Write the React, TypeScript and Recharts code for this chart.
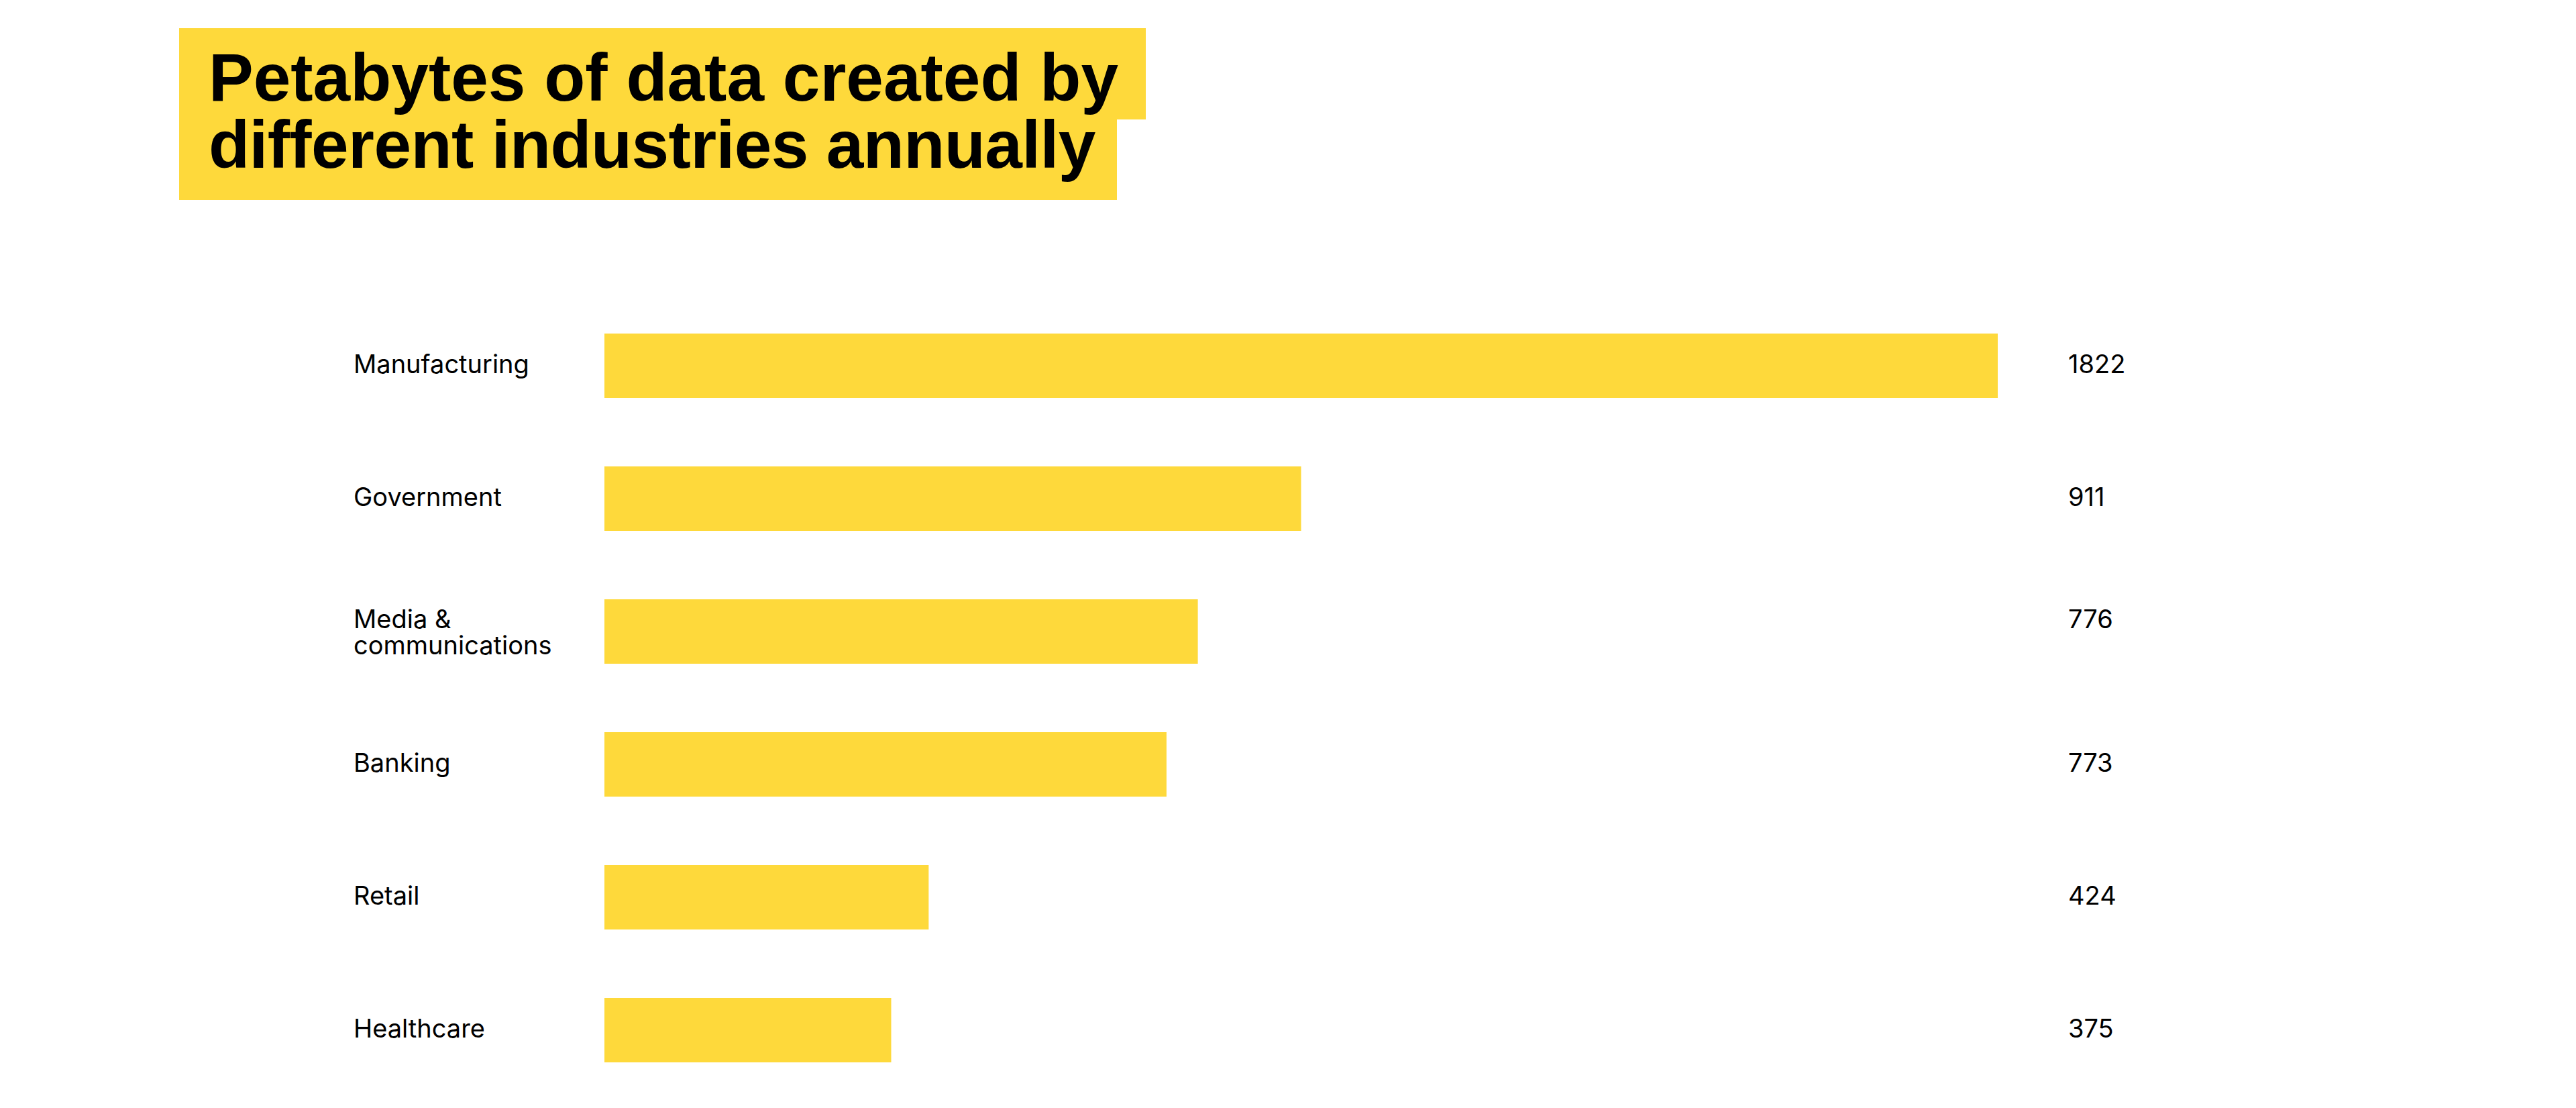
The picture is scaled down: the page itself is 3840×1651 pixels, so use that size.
import React from 'react';
import { BarChart, Bar, XAxis, YAxis, LabelList } from 'recharts';

const industries = ['Manufacturing', 'Government', 'Media & communications', 'Banking', 'Retail', 'Healthcare'];
// bar lengths as drawn
const petabytes = [1822, 911, 776, 735, 424, 375];
// numbers printed next to bars
const printedValues = ['1822', '911', '776', '773', '424', '375'];

const YELLOW = '#FED93B';
const LABEL_FONT = 'Inter, "Noto Sans", sans-serif';
const TITLE_FONT = '"Liberation Sans", Arial, sans-serif';

const W = 3840;
const H = 1651;
const margin = { top: 446, right: 862, bottom: 17, left: 527 };
const LINE_H = 39;
const BASE_OFF = 11;

const data = industries.map((name, i) => ({
    name,
    value: petabytes[i],
    label: printedValues[i],
}));

// greedy wrap for long category names
const wrap = (s: string, max = 14) => {
    const words = s.split(' ');
    const lines: string[] = [];
    let cur = '';
    words.forEach((w) => {
        const next = cur ? cur + ' ' + w : w;
        if (next.length > max && cur) {
            lines.push(cur);
            cur = w;
        } else {
            cur = next;
        }
    });
    if (cur) lines.push(cur);
    return lines;
};

// baseline of the first line for a label centred on y
const firstBaseline = (y: number, n: number) => y + BASE_OFF + (n > 1 ? 3 : 0) - ((n - 1) * LINE_H) / 2;

const CategoryTick = (props: any) => {
    const { y, payload } = props;
    const lines = wrap(payload.value);
    const y0 = firstBaseline(y, lines.length);
    return (
        <text x={margin.left} y={y0} textAnchor="start" fill="#000" fontSize={38} fontFamily={LABEL_FONT}>
            {lines.map((l, i) => (
                <tspan key={i} x={margin.left} y={y0 + i * LINE_H}>
                    {l}
                </tspan>
            ))}
        </text>
    );
};

const ValueLabel = (props: any) => {
    const { y, height, value, index } = props;
    const name = industries[index] ?? '';
    const n = wrap(name).length;
    return (
        <text
            x={W - margin.right + 105}
            y={firstBaseline(y + height / 2, n)}
            textAnchor="start"
            fill="#000"
            fontSize={38}
            fontFamily={LABEL_FONT}
        >
            {value}
        </text>
    );
};

const App: React.FC = () => {
    return (
        <div style={{ position: 'absolute', left: 0, top: 0, width: W, height: H, background: '#fff' }}>
            {/* Title blocks */}
            <div style={{ position: 'absolute', left: 267, top: 42, fontFamily: TITLE_FONT, fontWeight: 700, fontSize: 100, color: '#000' }}>
                <div style={{ background: YELLOW, height: 136, width: 'fit-content', padding: '0 41px 0 44px' }}>
                    <div style={{ lineHeight: '100px', position: 'relative', top: 23, whiteSpace: 'nowrap' }}>
                        Petabytes of data created by
                    </div>
                </div>
                <div style={{ background: YELLOW, height: 120, width: 'fit-content', padding: '0 32px 0 44px' }}>
                    <div style={{ lineHeight: '100px', position: 'relative', top: -13, whiteSpace: 'nowrap', letterSpacing: -0.6 }}>
                        different industries annually
                    </div>
                </div>
            </div>

            <div style={{ position: 'absolute', left: 0, top: 0 }}>
                <BarChart width={W} height={H} data={data} layout="vertical" margin={margin}>
                    <XAxis type="number" hide domain={[0, 1822]} />
                    <YAxis
                        type="category"
                        dataKey="name"
                        width={901 - margin.left}
                        axisLine={false}
                        tickLine={false}
                        tick={<CategoryTick />}
                    />
                    <Bar dataKey="value" fill={YELLOW} barSize={96} isAnimationActive={false}>
                        <LabelList dataKey="label" content={<ValueLabel />} />
                    </Bar>
                </BarChart>
            </div>
        </div>
    );
};

export default App;
